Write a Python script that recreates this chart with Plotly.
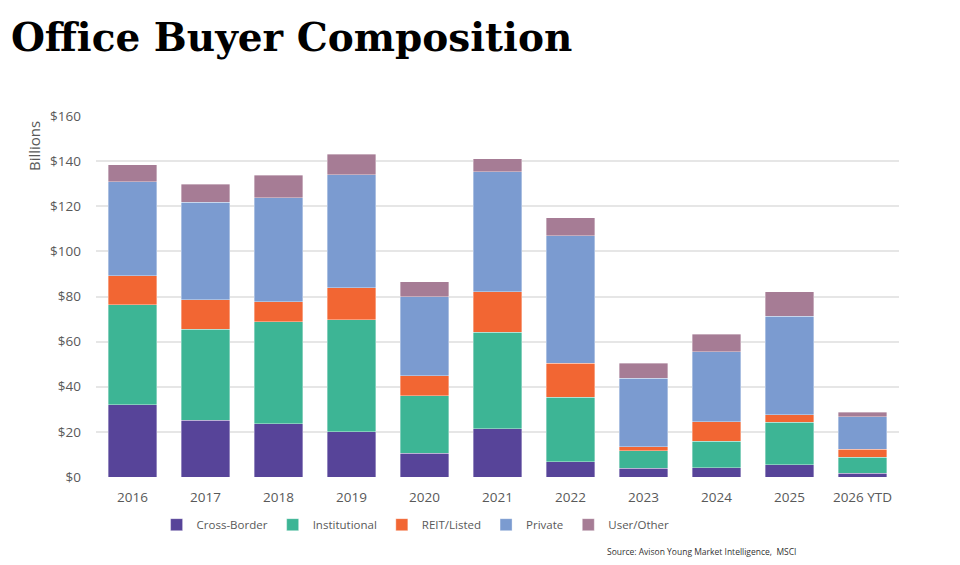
import plotly.graph_objects as go

# Data (USD billions)
years = ["2016", "2017", "2018", "2019", "2020", "2021", "2022", "2023", "2024", "2025", "2026 YTD"]
cross_border = [32.0, 25.1, 23.7, 20.1, 10.5, 21.3, 6.8, 3.9, 4.1, 5.5, 1.6]
institutional = [44.3, 40.4, 45.2, 49.5, 25.6, 42.8, 28.5, 7.7, 11.8, 18.7, 7.2]
reit_listed = [13.0, 13.1, 8.7, 14.2, 8.8, 18.0, 15.1, 1.8, 8.6, 3.5, 3.4]
private = [41.6, 43.1, 46.1, 50.1, 35.0, 53.3, 56.6, 30.3, 31.0, 43.5, 14.6]
user_other = [7.6, 8.1, 10.1, 9.1, 6.6, 5.6, 7.8, 6.7, 7.8, 11.0, 2.0]

y_ticks = [0, 20, 40, 60, 80, 100, 120, 140, 160]

series = [
    ("Cross-Border", cross_border, "#574499"),
    ("Institutional", institutional, "#3db595"),
    ("REIT/Listed", reit_listed, "#f26633"),
    ("Private", private, "#7b9bd0"),
    ("User/Other", user_other, "#a67c95"),
]

fig = go.Figure()
for name, vals, col in series:
    fig.add_trace(go.Bar(x=years, y=vals, name=name, marker_color=col,
                         marker_line=dict(color="rgba(255,255,255,0.6)", width=0.6)))

annotations = []
# y axis label sits near the top of the axis
annotations.append(dict(xref="paper", yref="paper", x=-0.077, y=0.992, text="Billions", textangle=-90,
                        xanchor="center", yanchor="top", showarrow=False,
                        font=dict(family="Open Sans", size=15, color="#595959")))
# source line
annotations.append(dict(xref="paper", yref="paper", x=0.874, y=-0.205, text="Source: Avison Young Market Intelligence,  MSCI",
                        xanchor="right", yanchor="middle", showarrow=False,
                        font=dict(family="Open Sans", size=8.5, color="#333333")))

fig.update_layout(
    width=960, height=565,
    barmode="stack", bargap=0.33,
    plot_bgcolor="#FFFFFF", paper_bgcolor="#FFFFFF",
    margin=dict(l=88, r=69, t=108, b=96),
    title=dict(text="<b>Office Buyer Composition</b>", x=0.003, xref="container", y=0.973, yref="container",
               xanchor="left", yanchor="top",
               font=dict(family="Rockwell, 'DejaVu Serif', serif", size=39, color="#000000")),
    legend=dict(orientation="h", x=0.398, xref="paper", xanchor="center", y=-0.132, yanchor="middle",
                font=dict(family="Open Sans", size=11.5, color="#595959"), traceorder="normal",
                itemwidth=30),
    annotations=annotations,
    font=dict(family="Open Sans", color="#595959"),
)
fig.update_xaxes(showline=False, tickfont=dict(size=13.5, color="#595959"), ticks="", ticklabelstandoff=10)
fig.update_yaxes(range=[0, 160], tickvals=y_ticks, ticktext=["$" + str(v) for v in y_ticks],
                 showgrid=True, gridcolor="#e6e6e6", gridwidth=1.5, zeroline=False,
                 tickfont=dict(size=13.5, color="#595959"), ticks="", ticklabelstandoff=14)

fig.write_html("out.html")
